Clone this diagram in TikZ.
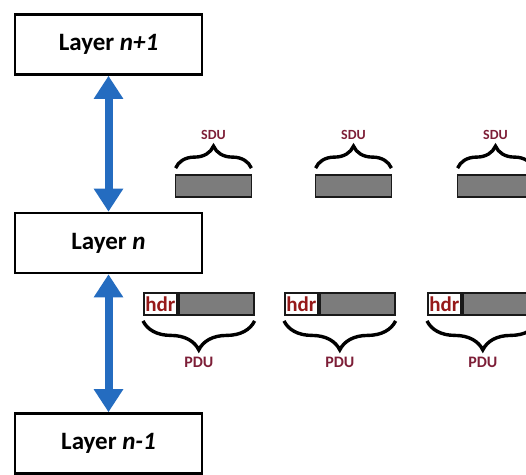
\documentclass[tikz,border=0pt]{standalone}
\usepackage{fontspec}
\setmainfont{Carlito}
\usetikzlibrary{arrows.meta,decorations.pathreplacing,calc}
\definecolor{layerblue}{RGB}{36,108,192}
\definecolor{unitred}{RGB}{125,30,55}
\definecolor{hdrred}{RGB}{150,25,25}
\definecolor{payload}{RGB}{124,124,124}
\tikzset{
  layerbox/.style={draw=black, line width=2.6pt, fill=white, minimum width=187pt,
    minimum height=60pt, inner sep=0pt, font=\fontsize{25}{25}\selectfont\bfseries},
  sdubox/.style={draw=black!90, line width=1.8pt, fill=payload, minimum width=76pt,
    minimum height=22pt, inner sep=0pt},
  hdrbox/.style={draw=black!90, line width=1.8pt, fill=white, minimum width=33pt,
    minimum height=22pt, inner sep=0pt, text=hdrred, font=\fontsize{21}{21}\selectfont\bfseries},
  pdubody/.style={draw=black!90, line width=1.8pt, fill=payload, minimum width=75pt,
    minimum height=22pt, inner sep=0pt},
  layerlink/.style={draw=layerblue, line width=8pt,
    {Triangle[width=28pt,length=23pt]}-{Triangle[width=28pt,length=23pt]}},
  upbrace/.style={decorate, decoration={brace, amplitude=22pt}, line width=3.4pt},
  downbrace/.style={decorate, decoration={brace, amplitude=29pt}, line width=3.4pt},
  sdulabel/.style={text=unitred, font=\fontsize{14}{14}\selectfont\bfseries, inner sep=0pt},
  pdulabel/.style={text=unitred, font=\fontsize{16}{16}\selectfont\bfseries, inner sep=0pt},
}
\begin{document}
\begin{tikzpicture}[x=1pt,y=-1pt]
\useasboundingbox (0,0) rectangle (526,474);
\clip (0,0) rectangle (526,474);

% protocol layers
\node[layerbox] (top) at (108.5,44.5) {Layer \textit{n+1}};
\node[layerbox] (mid) at (108.5,243) {Layer \textit{n}};
\node[layerbox] (bot) at (108.5,443.5) {Layer \textit{n-1}};

\draw[layerlink] (mid.north) -- (top.south);
\draw[layerlink] (bot.north) -- (mid.south);

% service data units handed down from the layer above
\foreach \i/\x in {1/213.5, 2/353.5, 3/495.5} {
  \node[sdubox] (sdu\i) at (\x,186) {};
  \draw[upbrace] ([xshift=1pt,yshift=6pt]sdu\i.north west) coordinate (sl\i)
     -- ([xshift=-1pt,yshift=6pt]sdu\i.north east) coordinate (sr\i);
  \node[sdulabel] (sdut\i) at (\x,135) {SDU};
}

% protocol data units: header plus payload
\foreach \i/\x in {1/143, 2/284, 3/427} {
  \node[hdrbox, anchor=west] (hdr\i) at (\x,304) {hdr};
  \node[pdubody, anchor=west] (body\i) at (hdr\i.east) {};
  \draw[downbrace] ([yshift=-5pt]body\i.south east) coordinate (pr\i)
     -- ([yshift=-5pt]hdr\i.south west) coordinate (pl\i);
  \node[pdulabel] (pdut\i) at ($(hdr\i.west)!0.5!(body\i.east)+(0,58)$) {PDU};
}
\end{tikzpicture}
\end{document}
